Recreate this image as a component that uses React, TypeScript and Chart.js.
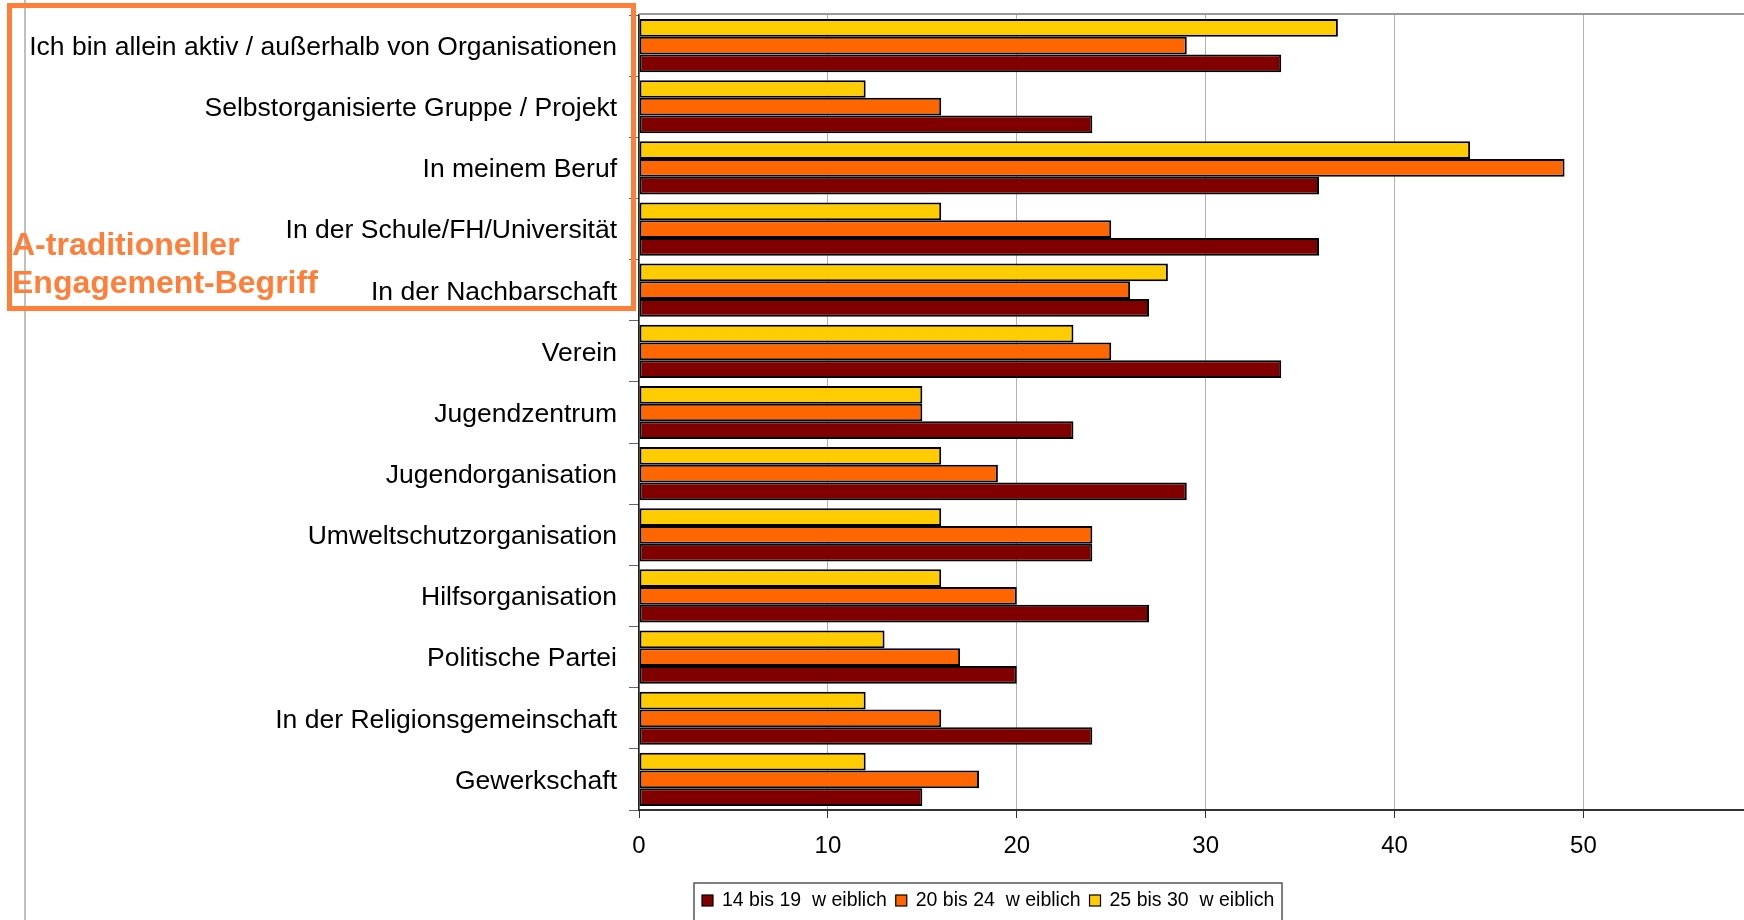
import React, { useEffect, useRef } from "react";
import { Chart, registerables } from "chart.js";

Chart.register(...registerables);

const categories = [
  "Ich bin allein aktiv / außerhalb von Organisationen",
  "Selbstorganisierte Gruppe / Projekt",
  "In meinem Beruf",
  "In der Schule/FH/Universität",
  "In der Nachbarschaft",
  "Verein",
  "Jugendzentrum",
  "Jugendorganisation",
  "Umweltschutzorganisation",
  "Hilfsorganisation",
  "Politische Partei",
  "In der Religionsgemeinschaft",
  "Gewerkschaft",
];

const seriesLabels = ["14 bis 19  w eiblich", "20 bis 24  w eiblich", "25 bis 30  w eiblich"];
const age14to19 = [34, 24, 36, 36, 27, 34, 23, 29, 24, 27, 20, 24, 15];
const age20to24 = [29, 16, 49, 25, 26, 25, 15, 19, 24, 20, 17, 16, 18];
const age25to30 = [37, 12, 44, 16, 28, 23, 15, 16, 16, 16, 13, 12, 12];
const seriesColors = ["#800000", "#ff6600", "#ffcc00"];
const xTicks = [0, 10, 20, 30, 40, 50];
const xMax = 58.5;

const annotationLines = ["A-traditioneller", "Engagement-Begriff"];

const FONT = "'Liberation Sans', Arial, sans-serif";

const decorPlugin = {
  id: "decor",
  beforeDraw(chart: any) {
    const ctx = chart.ctx;
    ctx.save();
    ctx.strokeStyle = "#c0c0c0";
    ctx.lineWidth = 2;
    ctx.beginPath();
    ctx.moveTo(25, 0);
    ctx.lineTo(25, chart.height);
    ctx.stroke();
    ctx.restore();
  },
  afterDraw(chart: any) {
    const ctx = chart.ctx;
    const area = chart.chartArea;
    ctx.save();
    // top frame line
    ctx.strokeStyle = "#999999";
    ctx.lineWidth = 2;
    ctx.beginPath();
    ctx.moveTo(area.left, area.top - 1);
    ctx.lineTo(area.right, area.top - 1);
    ctx.stroke();

    // legend
    const lx = 694;
    const ly = 883;
    const lw = 588;
    const lh = 60;
    ctx.strokeStyle = "#555555";
    ctx.lineWidth = 1.5;
    ctx.strokeRect(lx, ly, lw, lh);
    ctx.font = "19.5px " + FONT;
    ctx.textBaseline = "middle";
    ctx.fillStyle = "#000";
    let x = lx + 8;
    const cy = 900;
    for (let i = 0; i < seriesLabels.length; i++) {
      ctx.fillStyle = seriesColors[i];
      ctx.fillRect(x, cy - 5, 11, 11);
      ctx.strokeStyle = "#000";
      ctx.lineWidth = 1.2;
      ctx.strokeRect(x, cy - 5, 11, 11);
      x += 11 + 9;
      ctx.fillStyle = "#000";
      ctx.fillText(seriesLabels[i], x, cy + 1);
      x += ctx.measureText(seriesLabels[i]).width + 9;
    }
    ctx.restore();
  },
};

export default function App() {
  const ref = useRef<HTMLCanvasElement | null>(null);

  useEffect(() => {
    if (!ref.current) return;
    const chart = new Chart(ref.current, {
      type: "bar",
      data: {
        labels: categories,
        datasets: [
          {
            label: seriesLabels[2],
            data: age25to30,
            backgroundColor: seriesColors[2],
          },
          {
            label: seriesLabels[1],
            data: age20to24,
            backgroundColor: seriesColors[1],
          },
          {
            label: seriesLabels[0],
            data: age14to19,
            backgroundColor: seriesColors[0],
          },
        ].map((d) => ({
          ...d,
          borderColor: "#000000",
          borderWidth: 2,
          borderSkipped: false,
          categoryPercentage: 0.87,
          barPercentage: 1.0,
        })),
      },
      options: {
        indexAxis: "y",
        responsive: false,
        animation: false,
        layout: { padding: { top: 15, right: 0, left: 0, bottom: 0 } },
        plugins: {
          legend: { display: false },
          tooltip: { enabled: false },
        },
        scales: {
          x: {
            min: 0,
            max: xMax,
            afterBuildTicks: (scale: any) => {
              scale.ticks = xTicks.map((v) => ({ value: v }));
            },
            afterFit: (scale: any) => {
              scale.height = 110;
              scale.paddingLeft = 0;
              scale.paddingRight = 0;
            },
            ticks: {
              color: "#000",
              font: { family: FONT, size: 24 },
              padding: 14,
            },
            grid: {
              color: "#b3b3b3",
              lineWidth: 1,
              tickLength: 8,
              tickColor: "#333333",
            },
            border: { color: "#333333", width: 2 },
          },
          y: {
            afterFit: (scale: any) => {
              scale.width = 639;
              scale.paddingTop = 0;
              scale.paddingBottom = 0;
            },
            ticks: {
              color: "#000",
              font: { family: FONT, size: 26.5 },
              padding: 12,
              labelOffset: 2,
            },
            grid: {
              drawOnChartArea: false,
              tickLength: 10,
              color: "#666666",
            },
            border: { color: "#222222", width: 1.5 },
          },
        },
      },
      plugins: [decorPlugin],
    });
    return () => chart.destroy();
  }, []);

  return (
    <div style={{ position: "absolute", left: 0, top: 0, width: 1744, height: 920, background: "#fff", overflow: "hidden" }}>
      <canvas ref={ref} width={1744} height={920} style={{ position: "absolute", left: 0, top: 0 }} />
      <div
        style={{
          position: "absolute",
          left: 7,
          top: 3,
          width: 619,
          height: 298,
          border: "5px solid #ff7f3a",
          pointerEvents: "none",
        }}
      />
      <div
        style={{
          position: "absolute",
          left: 12,
          top: 225,
          color: "#ff7f3a",
          fontFamily: FONT,
          fontWeight: "bold",
          fontSize: 32,
          lineHeight: "38px",
          whiteSpace: "nowrap",
        }}
      >
        {annotationLines.map((t) => (
          <div key={t}>{t}</div>
        ))}
      </div>
    </div>
  );
}
